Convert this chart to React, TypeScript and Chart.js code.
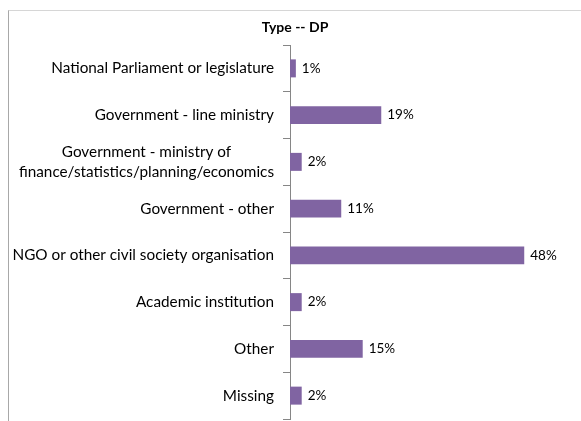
import React, { useEffect, useRef } from "react";
import { Chart, registerables } from "chart.js";

Chart.register(...registerables);

const categories: string[][] = [
  ["National Parliament or legislature"],
  ["Government - line ministry"],
  ["Government - ministry of", "finance/statistics/planning/economics"],
  ["Government - other"],
  ["NGO or other civil society organisation"],
  ["Academic institution"],
  ["Other"],
  ["Missing"],
];
const values: number[] = [1.2, 18.7, 2.4, 10.5, 48, 2.4, 14.9, 2.4];
const valueLabels: string[] = ["1%", "19%", "2%", "11%", "48%", "2%", "15%", "2%"];
const chartTitle = "Type -- DP";

const FONT = "Lato, 'DejaVu Sans', sans-serif";

export default function App() {
  const ref = useRef<HTMLCanvasElement | null>(null);

  useEffect(() => {
    if (!ref.current) return;
    const labelPlugin = {
      id: "customLabels",
      afterDraw(chart: any) {
        const ctx = chart.ctx;
        const yScale = chart.scales.y;
        ctx.save();
        // title
        ctx.font = `bold 14px ${FONT}`;
        ctx.fillStyle = "#000";
        ctx.textAlign = "center";
        ctx.textBaseline = "middle";
        ctx.fillText(chartTitle, 295, 27);
        // category labels
        ctx.font = `15.3px ${FONT}`;
        ctx.fillStyle = "#000";
        const right = 274;
        const lh = 20;
        categories.forEach((lines, i) => {
          const yc = yScale.getPixelForValue(i);
          const widths = lines.map((l) => ctx.measureText(l).width);
          const bw = Math.max(...widths);
          const center = right - bw / 2;
          ctx.textAlign = "center";
          lines.forEach((l, j) => {
            const y = yc + (j - (lines.length - 1) / 2) * lh;
            ctx.fillText(l, center, y);
          });
        });
        // value labels
        ctx.font = `13.5px ${FONT}`;
        ctx.textAlign = "left";
        const meta = chart.getDatasetMeta(0);
        meta.data.forEach((el: any, i: number) => {
          ctx.fillText(valueLabels[i], el.x + 6, el.y);
        });
        ctx.restore();
      },
    };

    const chart = new Chart(ref.current, {
      type: "bar",
      data: {
        labels: categories.map((c) => c.join(" ")),
        datasets: [
          {
            data: values,
            backgroundColor: "#8064A2",
            borderWidth: 0,
            barPercentage: 0.385,
            categoryPercentage: 1,
          },
        ],
      },
      options: {
        indexAxis: "y",
        animation: false,
        responsive: false,
        devicePixelRatio: 1,
        layout: { padding: { top: 45, bottom: 2, left: 0, right: 47 } },
        plugins: {
          legend: { display: false },
          title: { display: false },
          tooltip: { enabled: false },
        },
        scales: {
          x: { display: false, min: 0, max: 50 },
          y: {
            offset: true,
            afterFit(scale: any) {
              scale.width = 290;
            },
            grid: {
              offset: true,
              drawOnChartArea: false,
              drawTicks: true,
              tickLength: 7,
              color: "#868686",
            },
            border: { display: true, color: "#868686", width: 1 },
            ticks: { display: false },
          },
        },
      },
      plugins: [labelPlugin],
    });
    return () => chart.destroy();
  }, []);

  return (
    <>
      <div
        style={{
          position: "fixed",
          left: 8,
          top: 10,
          width: 700,
          height: 500,
          borderTop: "1px solid #d6d6d6",
          borderLeft: "1px solid #a8a8a8",
          boxSizing: "border-box",
        }}
      />
      <canvas
        ref={ref}
        width={581}
        height={421}
        style={{ position: "fixed", left: 0, top: 0, width: 581, height: 421, display: "block" }}
      />
    </>
  );
}
